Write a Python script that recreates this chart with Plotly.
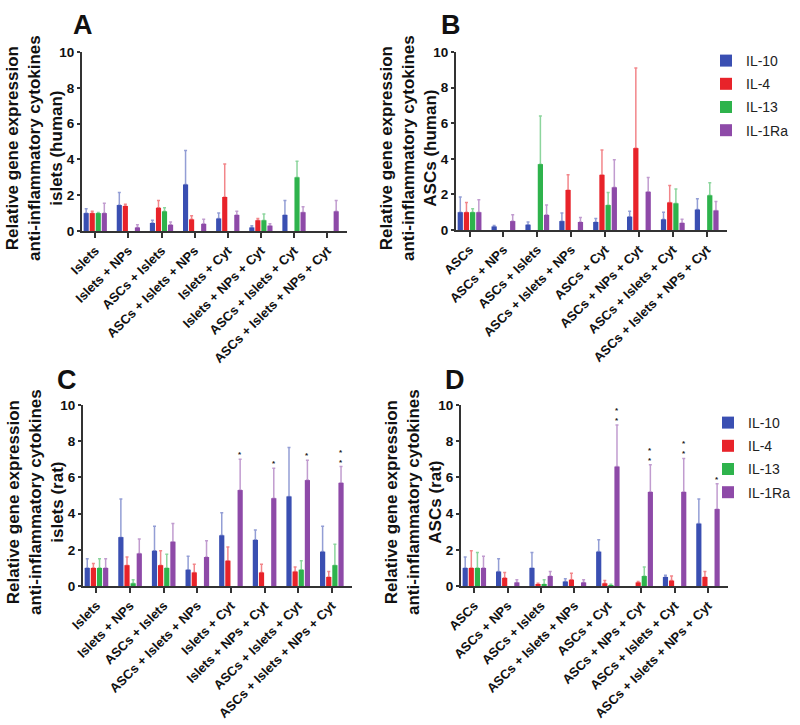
import plotly.graph_objects as go

W, H = 800, 725

genes = ["IL-10", "IL-4", "IL-13", "IL-1Ra"]
gene_colors = ["#3a4fb2", "#e8232a", "#2eb34c", "#8e4aa8"]
err_colors = ["rgba(58,79,178,0.55)", "rgba(232,35,42,0.55)", "rgba(46,179,76,0.55)", "rgba(142,74,168,0.55)"]

cats_islets = ["Islets", "Islets + NPs", "ASCs + Islets", "ASCs + Islets + NPs",
               "Islets + Cyt", "Islets + NPs + Cyt", "ASCs + Islets + Cyt", "ASCs + Islets + NPs + Cyt"]
cats_ascs = ["ASCs", "ASCs + NPs", "ASCs + Islets", "ASCs + Islets + NPs",
             "ASCs + Cyt", "ASCs + NPs + Cyt", "ASCs + Islets + Cyt", "ASCs + Islets + NPs + Cyt"]

# Panel A: islets (human)
a_il10 = [1.0, 1.45, 0.45, 2.6, 0.7, 0.2, 0.9, None]
a_il10_sd = [0.25, 0.7, 0.15, 1.9, 0.3, 0.1, 0.8, None]
a_il4 = [1.0, 1.4, 1.3, 0.65, 1.9, 0.6, None, None]
a_il4_sd = [0.1, 0.1, 0.4, 0.2, 1.85, 0.1, None, None]
a_il13 = [1.0, None, 1.1, None, None, 0.6, 3.0, None]
a_il13_sd = [0.03, None, 0.2, None, None, 0.35, 0.9, None]
a_il1ra = [1.0, 0.2, 0.35, 0.4, 0.9, 0.3, 1.05, 1.1]
a_il1ra_sd = [0.55, 0.15, 0.15, 0.25, 0.2, 0.1, 0.3, 0.6]
a_stars = [None] * 8

# Panel B: ASCs (human)
b_il10 = [1.0, 0.2, 0.3, 0.5, 0.45, 0.75, 0.6, 1.15]
b_il10_sd = [0.85, 0.05, 0.15, 0.45, 0.2, 0.3, 0.4, 0.6]
b_il4 = [1.0, None, None, 2.25, 3.1, 4.6, 1.55, None]
b_il4_sd = [0.55, None, None, 0.85, 1.4, 4.5, 0.95, None]
b_il13 = [1.0, None, 3.7, None, 1.4, None, 1.5, 1.95]
b_il13_sd = [0.2, None, 2.7, None, 0.7, None, 0.8, 0.7]
b_il1ra = [1.0, 0.5, 0.85, 0.45, 2.4, 2.15, 0.4, 1.1]
b_il1ra_sd = [0.7, 0.35, 0.55, 0.25, 1.55, 0.8, 0.2, 0.5]
b_stars = [None] * 8

# Panel C: islets (rat)
c_il10 = [1.0, 2.7, 1.95, 0.9, 2.8, 2.55, 4.95, 1.9]
c_il10_sd = [0.5, 2.1, 1.35, 0.75, 1.25, 0.55, 2.7, 1.4]
c_il4 = [1.0, 1.15, 1.15, 0.75, 1.4, 0.75, 0.8, 0.5]
c_il4_sd = [0.25, 0.45, 0.8, 0.45, 0.75, 0.45, 0.25, 0.3]
c_il13 = [1.0, 0.15, 1.0, None, None, None, 0.9, 1.15]
c_il13_sd = [0.5, 0.2, 0.75, None, None, None, 0.5, 1.15]
c_il1ra = [1.0, 1.8, 2.45, 1.6, 5.3, 4.85, 5.85, 5.7]
c_il1ra_sd = [0.5, 0.8, 1.0, 0.9, 1.7, 1.65, 1.1, 0.9]
c_stars = [None, None, None, None, "*", "*", "*", "**"]

# Panel D: ASCs (rat)
d_il10 = [1.0, 0.8, 1.0, 0.25, 1.9, None, 0.5, 3.45]
d_il10_sd = [0.6, 0.7, 0.85, 0.15, 0.65, None, 0.1, 1.35]
d_il4 = [1.0, 0.45, 0.1, 0.35, 0.15, 0.2, 0.3, 0.5]
d_il4_sd = [0.95, 0.3, 0.05, 0.35, 0.15, 0.05, 0.25, 0.3]
d_il13 = [1.0, None, 0.1, None, 0.05, 0.55, None, None]
d_il13_sd = [0.85, None, 0.25, None, 0.05, 0.5, None, None]
d_il1ra = [1.0, 0.2, 0.55, 0.2, 6.6, 5.2, 5.2, 4.25]
d_il1ra_sd = [0.65, 0.15, 0.25, 0.15, 2.3, 1.5, 1.85, 1.4]
d_stars = [None, None, None, None, "**", "**", "**", "*"]

FONT = "Arial, Liberation Sans, sans-serif"
BARGAP = 0.27

panels = [
    dict(key="A", cats=cats_islets, means=[a_il10, a_il4, a_il13, a_il1ra],
         sds=[a_il10_sd, a_il4_sd, a_il13_sd, a_il1ra_sd], stars=a_stars,
         title="Relative gene expression<br>anti-inflammatory cytokines<br>islets (human)",
         xd=(82, 347), yd=(52, 231), lab=(83, 25), tit=(34, 148), legend=None),
    dict(key="B", cats=cats_ascs, means=[b_il10, b_il4, b_il13, b_il1ra],
         sds=[b_il10_sd, b_il4_sd, b_il13_sd, b_il1ra_sd], stars=b_stars,
         title="Relative gene expression<br>anti-inflammatory cytokines<br>ASCs (human)",
         xd=(456, 727), yd=(52, 230), lab=(451, 25), tit=(408, 148), legend="legend"),
    dict(key="C", cats=cats_islets, means=[c_il10, c_il4, c_il13, c_il1ra],
         sds=[c_il10_sd, c_il4_sd, c_il13_sd, c_il1ra_sd], stars=c_stars,
         title="Relative gene expression<br>anti-inflammatory cytokines<br>islets (rat)",
         xd=(83, 352), yd=(405, 586), lab=(67, 380), tit=(35, 502), legend=None),
    dict(key="D", cats=cats_ascs, means=[d_il10, d_il4, d_il13, d_il1ra],
         sds=[d_il10_sd, d_il4_sd, d_il13_sd, d_il1ra_sd], stars=d_stars,
         title="Relative gene expression<br>anti-inflammatory cytokines<br>ASCs (rat)",
         xd=(461, 728), yd=(405, 586), lab=(455, 380), tit=(413, 502), legend="legend2"),
]

fig = go.Figure()
annotations = []
layout_axes = {}

for i, p in enumerate(panels):
    n = i + 1
    xa = "x" if n == 1 else f"x{n}"
    ya = "y" if n == 1 else f"y{n}"
    for g in range(4):
        sd = p["sds"][g]
        tr = go.Bar(
            x=p["cats"], y=p["means"][g], name=genes[g],
            marker=dict(color=gene_colors[g], line=dict(width=0)),
            error_y=dict(type="data", symmetric=False, array=[s if s is not None else 0 for s in sd],
                         arrayminus=[0] * len(sd), color=err_colors[g], thickness=1.5, width=1.5),
            xaxis=xa, yaxis=ya,
            showlegend=p["legend"] is not None,
            legendgroup=f"{p['key']}{g}",
        )
        if p["legend"] is not None:
            tr.legend = p["legend"]
        fig.add_trace(tr)
    # significance stars above IL-1Ra bars
    w = 1 - BARGAP
    off = 3 * w / 8
    for j, s in enumerate(p["stars"]):
        if s:
            top = p["means"][3][j] + p["sds"][3][j]
            annotations.append(dict(
                x=j + off, y=top, xref=xa, yref=ya, text="*<br>*" if s == "**" else "*",
                showarrow=False, yanchor="bottom", yshift=-2,
                font=dict(family=FONT, size=8, color="#222", weight=700)))
    # panel label
    annotations.append(dict(x=p["lab"][0] / W, y=1 - p["lab"][1] / H, xref="paper", yref="paper",
                            text=p["key"], showarrow=False, xanchor="center", yanchor="middle",
                            font=dict(family=FONT, size=27, color="#111", weight=700)))
    # y title
    annotations.append(dict(x=p["tit"][0] / W, y=1 - p["tit"][1] / H, xref="paper", yref="paper",
                            text=p["title"], showarrow=False, textangle=-90,
                            xanchor="center", yanchor="middle",
                            font=dict(family=FONT, size=17, color="#111", weight=700)))
    xk = "xaxis" if n == 1 else f"xaxis{n}"
    yk = "yaxis" if n == 1 else f"yaxis{n}"
    layout_axes[xk] = dict(
        domain=[p["xd"][0] / W, p["xd"][1] / W], anchor=ya, type="category",
        categoryorder="array", categoryarray=p["cats"], range=[-0.4, 7.6],
        showline=True, linecolor="#333", linewidth=2, ticks="outside", ticklen=5,
        tickwidth=2, tickcolor="#333", tickangle=-45, showgrid=False, automargin=False,
        tickfont=dict(family=FONT, size=13, color="#111", weight=700))
    layout_axes[yk] = dict(
        domain=[1 - p["yd"][1] / H, 1 - p["yd"][0] / H], anchor=xa, range=[0, 10],
        tickvals=[0, 2, 4, 6, 8, 10], showline=True, linecolor="#333", linewidth=2,
        ticks="outside", ticklen=3, tickwidth=2, tickcolor="#333", showgrid=False,
        zeroline=False, automargin=False,
        tickfont=dict(family=FONT, size=13.5, color="#111", weight=700))

fig.update_layout(
    width=W, height=H, margin=dict(l=0, r=0, t=0, b=0),
    paper_bgcolor="white", plot_bgcolor="white",
    barmode="group", bargap=BARGAP, bargroupgap=0.15,
    annotations=annotations,
    legend=dict(x=706 / W, y=1 - 45 / H, xanchor="left", yanchor="top",
                font=dict(family=FONT, size=14, color="#222"), tracegroupgap=2,
                bgcolor="rgba(0,0,0,0)"),
    legend2=dict(x=708 / W, y=1 - 407 / H, xanchor="left", yanchor="top",
                 font=dict(family=FONT, size=14, color="#222"), tracegroupgap=2,
                 bgcolor="rgba(0,0,0,0)"),
    **layout_axes,
)

fig.write_html("out.html", config={"displayModeBar": False},
               post_script="document.body.style.margin='0';document.body.style.overflow='hidden';")
